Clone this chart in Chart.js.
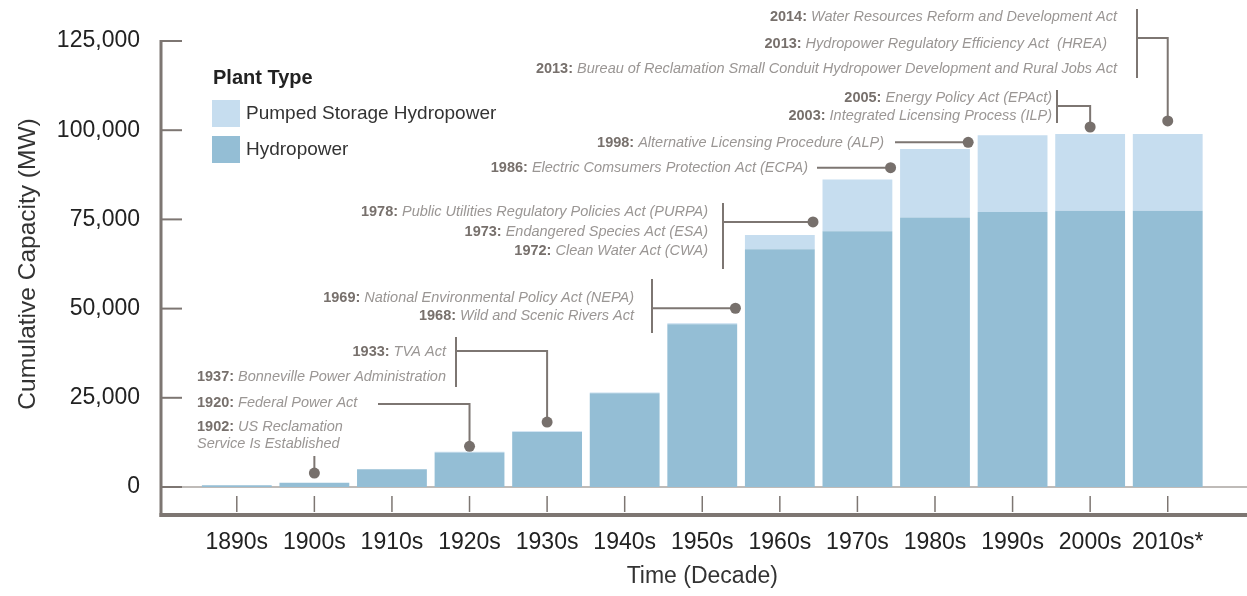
<!DOCTYPE html>
<html>
<head>
<meta charset="utf-8">
<script src="https://cdn.jsdelivr.net/npm/chart.js@4.4.1/dist/chart.umd.min.js"></script>
<style>
    html, body { margin: 0; padding: 0; background: #fff; }
    #wrap { width: 1247px; height: 596px; position: relative; }
</style>
</head>
<body>
<div id="wrap"><canvas id="capacityChart"></canvas></div>
<script>
// Cumulative installed capacity (MW) per decade
const decades = ['1890s', '1900s', '1910s', '1920s', '1930s', '1940s', '1950s', '1960s', '1970s', '1980s', '1990s', '2000s', '2010s*'];
const hydropower = [500, 1200, 5000, 9700, 15400, 26300, 45600, 66600, 71700, 75500, 77100, 77400, 77400];
const pumpedStorage = [0, 0, 0, 200, 200, 200, 300, 4000, 14500, 19200, 21500, 21500, 21500];
const yTicks = [0, 25000, 50000, 75000, 100000, 125000];

const FONT = '"Liberation Sans", Arial, Helvetica, sans-serif';
const RULE = '#7d7672';

// Policy milestones: text placement in pixels, dot tied to a decade bar + value
const notes = [
    { lines: [['1902:', 'US Reclamation'], ['', 'Service Is Established']], align: 'left', x: 197, ys: [427, 444],
      from: [null, 456], cat: 1, edge: 0, value: 3900 },
    { lines: [['1920:', 'Federal Power Act']], align: 'left', x: 197, ys: [403],
      from: [378, 404], cat: 3, edge: 0, value: 11400 },
    { lines: [['1933:', 'TVA Act'], ['1937:', 'Bonneville Power Administration']], align: 'right', x: 446, ys: [352, 377],
      bracket: [456, 337, 387], from: [456, 351], cat: 4, edge: 0, value: 18200 },
    { lines: [['1969:', 'National Environmental Policy Act (NEPA)'], ['1968:', 'Wild and Scenic Rivers Act']], align: 'right', x: 634, ys: [298, 316],
      bracket: [652, 279, 333], from: [652, null], cat: 6, edge: 0.95, value: 50100 },
    { lines: [['1978:', 'Public Utilities Regulatory Policies Act (PURPA)'], ['1973:', 'Endangered Species Act (ESA)'], ['1972:', 'Clean Water Act (CWA)']],
      align: 'right', x: 708, ys: [212, 232, 251],
      bracket: [723, 203, 269], from: [723, null], cat: 7, edge: 0.95, value: 74300 },
    { lines: [['1986:', 'Electric Comsumers Protection Act (ECPA)']], align: 'right', x: 808, ys: [168],
      from: [817, null], cat: 8, edge: 0.95, value: 89500 },
    { lines: [['1998:', 'Alternative Licensing Procedure (ALP)']], align: 'right', x: 884, ys: [143],
      from: [895, null], cat: 9, edge: 0.95, value: 96600 },
    { lines: [['2005:', 'Energy Policy Act (EPAct)'], ['2003:', 'Integrated Licensing Process (ILP)']], align: 'right', x: 1052, ys: [98, 116],
      bracket: [1057, 90, 123], from: [1057, 106], cat: 11, edge: 0, value: 100900 },
    { lines: [['2014:', 'Water Resources Reform and Development Act'], ['2013:', 'Hydropower Regulatory Efficiency Act  (HREA)'],
              ['2013:', 'Bureau of Reclamation Small Conduit Hydropower Development and Rural Jobs Act']],
      align: 'right', x: 1117, xs: [1117, 1107, 1117], ys: [17, 44, 69],
      bracket: [1137, 9, 78], from: [1137, 38], cat: 12, edge: 0, value: 102600 }
];

function drawNote(ctx, chart, note) {
    ctx.textBaseline = 'middle';
    note.lines.forEach(([year, text], i) => {
        const yy = note.ys[i];
        ctx.font = 'bold 14.5px ' + FONT;
        const yw = year ? ctx.measureText(year + ' ').width : 0;
        ctx.font = 'italic 14.5px ' + FONT;
        const tw = ctx.measureText(text).width;
        const ax = note.xs ? note.xs[i] : note.x;
        const x0 = note.align === 'right' ? ax - yw - tw : ax;
        if (year) {
            ctx.font = 'bold 14.5px ' + FONT;
            ctx.fillStyle = '#77706c';
            ctx.textAlign = 'left';
            ctx.fillText(year, x0, yy);
        }
        ctx.font = 'italic 14.5px ' + FONT;
        ctx.fillStyle = '#9a9694';
        ctx.textAlign = 'left';
        ctx.fillText(text, x0 + yw, yy);
    });

    const bar = chart.getDatasetMeta(0).data[note.cat];
    const tx = bar.x + note.edge * bar.width / 2;
    const ty = chart.scales.y.getPixelForValue(note.value);
    const sx = note.from[0] == null ? tx : note.from[0];
    const sy = note.from[1] == null ? ty : note.from[1];

    ctx.strokeStyle = RULE;
    ctx.lineWidth = 2;
    if (note.bracket) {
        ctx.beginPath();
        ctx.moveTo(note.bracket[0], note.bracket[1]);
        ctx.lineTo(note.bracket[0], note.bracket[2]);
        ctx.stroke();
    }
    ctx.beginPath();
    ctx.moveTo(sx, sy);
    ctx.lineTo(tx, sy);
    ctx.lineTo(tx, ty);
    ctx.stroke();

    ctx.fillStyle = '#77706c';
    ctx.beginPath();
    ctx.arc(tx, ty, 5.5, 0, Math.PI * 2);
    ctx.fill();
}

const decor = {
    id: 'decor',
    beforeDatasetsDraw(chart) {
        const { ctx, scales: { x, y } } = chart;
        const axisX = 161;
        const zeroY = y.getPixelForValue(0);
        ctx.save();
        // baseline under the bars
        ctx.strokeStyle = '#aaa4a0';
        ctx.lineWidth = 1.5;
        ctx.beginPath();
        ctx.moveTo(axisX, zeroY);
        ctx.lineTo(chart.width, zeroY);
        ctx.stroke();

        ctx.strokeStyle = RULE;
        // left rule
        ctx.lineWidth = 3;
        ctx.beginPath();
        ctx.moveTo(axisX, y.getPixelForValue(125000) - 1);
        ctx.lineTo(axisX, 517);
        ctx.stroke();
        // bottom rule
        ctx.lineWidth = 4;
        ctx.beginPath();
        ctx.moveTo(axisX - 1.5, 515);
        ctx.lineTo(chart.width, 515);
        ctx.stroke();
        // y tick marks
        ctx.lineWidth = 2;
        yTicks.forEach(v => {
            const py = y.getPixelForValue(v);
            ctx.beginPath();
            ctx.moveTo(axisX, py);
            ctx.lineTo(182, py);
            ctx.stroke();
        });
        // x tick marks
        ctx.lineWidth = 1.5;
        decades.forEach((d, i) => {
            const px = x.getPixelForValue(i);
            ctx.beginPath();
            ctx.moveTo(px, 496);
            ctx.lineTo(px, 512);
            ctx.stroke();
        });
        ctx.restore();
    },
    afterDraw(chart) {
        const ctx = chart.ctx;
        ctx.save();
        notes.forEach(n => drawNote(ctx, chart, n));

        // legend, top entry = top of stack
        ctx.textBaseline = 'middle';
        ctx.textAlign = 'left';
        ctx.fillStyle = '#222';
        ctx.font = 'bold 20px ' + FONT;
        ctx.fillText('Plant Type', 213, 78);
        const sets = chart.data.datasets.slice().reverse();
        sets.forEach((ds, i) => {
            const top = 100 + i * 36;
            ctx.fillStyle = ds.backgroundColor;
            ctx.fillRect(212, top, 28, 27);
            ctx.fillStyle = '#333';
            ctx.font = '19px ' + FONT;
            ctx.fillText(ds.label, 246, top + 14);
        });
        ctx.restore();
    }
};

const ctx = document.getElementById('capacityChart').getContext('2d');
new Chart(ctx, {
    type: 'bar',
    data: {
        labels: decades,
        datasets: [
            { label: 'Hydropower', data: hydropower, backgroundColor: '#94bed5' },
            { label: 'Pumped Storage Hydropower', data: pumpedStorage, backgroundColor: '#c6ddef' }
        ]
    },
    options: {
        responsive: true,
        maintainAspectRatio: false,
        animation: false,
        layout: { padding: { top: 41, right: 38, left: 0, bottom: 0 } },
        datasets: { bar: { categoryPercentage: 1, barPercentage: 0.9, borderWidth: 0 } },
        plugins: { legend: { display: false }, tooltip: { enabled: false } },
        scales: {
            x: {
                stacked: true,
                afterFit: s => { s.height = 109; },
                grid: { display: false, drawTicks: false },
                border: { display: false },
                ticks: { color: '#222', font: { family: FONT, size: 23 }, padding: 42, maxRotation: 0, autoSkip: false },
                title: { display: true, text: 'Time (Decade)', color: '#333', font: { family: FONT, size: 23 }, padding: { top: 5, bottom: 6 } }
            },
            y: {
                stacked: true,
                min: 0,
                max: 125000,
                afterFit: s => { s.width = 198; },
                afterBuildTicks: s => { s.ticks = yTicks.map(v => ({ value: v })); },
                // tick marks are drawn by the plugin; tickLength only spaces the labels
                grid: { display: false, drawTicks: true, tickLength: 58 },
                border: { display: false },
                ticks: { color: '#222', font: { family: FONT, size: 23 }, padding: 0,
                         callback: v => v.toLocaleString('en-US') },
                title: { display: true, text: 'Cumulative Capacity (MW)', color: '#333', font: { family: FONT, size: 24.5 }, padding: { top: 14, bottom: 14 } }
            }
        }
    },
    plugins: [decor]
});
</script>
</body>
</html>
